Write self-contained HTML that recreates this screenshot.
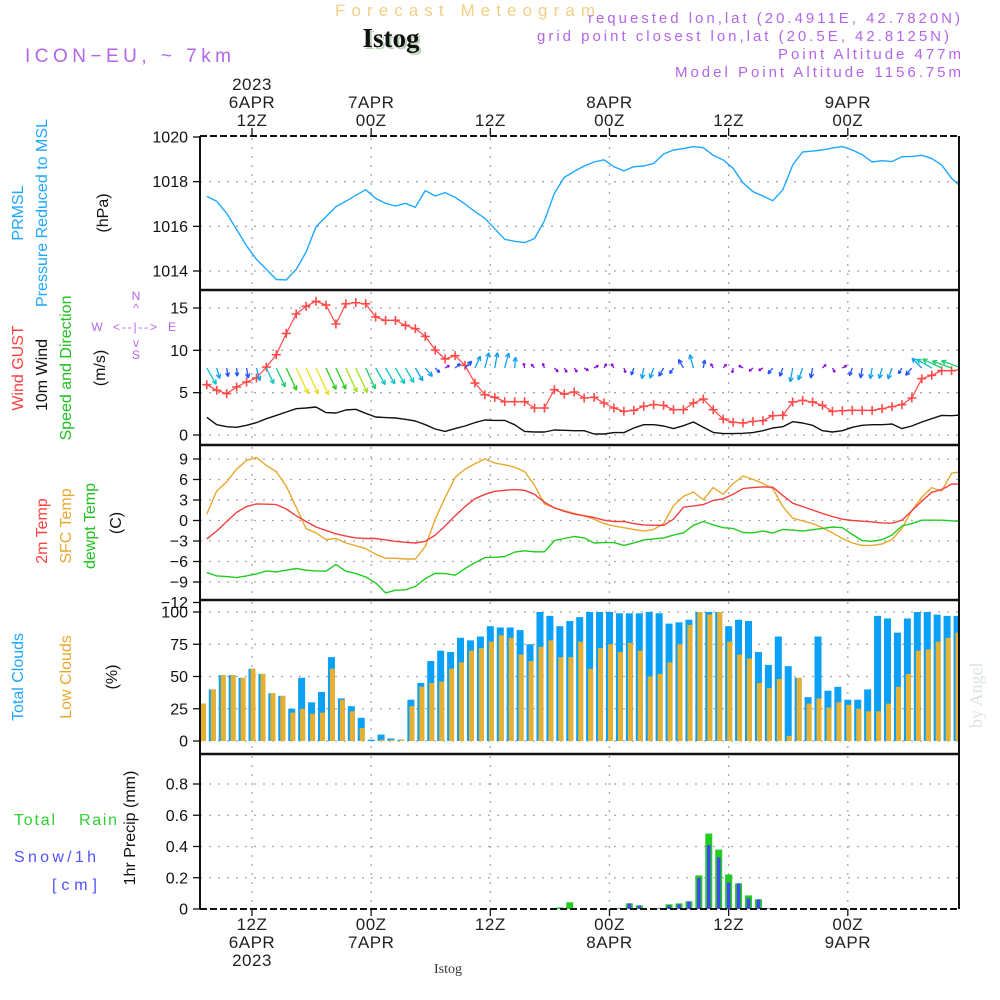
<!DOCTYPE html>
<html><head><meta charset="utf-8"><title>Forecast Meteogram - Istog</title>
<style>
html,body{margin:0;padding:0;background:#fff;}
svg{display:block;font-family:"Liberation Sans",sans-serif;}
</style></head>
<body>
<svg id="chart" width="1000" height="1000" viewBox="0 0 1000 1000" xmlns="http://www.w3.org/2000/svg">
<defs><clipPath id="plotclip"><rect x="200" y="130" width="760" height="790"/></clipPath></defs>
<!-- header -->
<text x="335" y="16" font-size="17" fill="#f3cf86" textLength="260" lengthAdjust="spacing">Forecast Meteogram</text>
<text x="393" y="49" text-anchor="middle" font-family="'Liberation Serif',serif" font-weight="bold" font-size="27" fill="#b9d3b9">Istog</text>
<text x="391" y="47" text-anchor="middle" font-family="'Liberation Serif',serif" font-weight="bold" font-size="27" fill="#111">Istog</text>
<text x="25" y="62" font-size="19" fill="#b366e8" textLength="206" lengthAdjust="spacing">ICON−EU, ~ 7km</text>
<g font-size="15" fill="#b366e8">
<text x="588" y="23" textLength="372" lengthAdjust="spacing">requested lon,lat (20.4911E, 42.7820N)</text>
<text x="537" y="41" textLength="412" lengthAdjust="spacing">grid point closest lon,lat (20.5E, 42.8125N)</text>
<text x="778" y="59" textLength="183" lengthAdjust="spacing">Point Altitude 477m</text>
<text x="675" y="77" textLength="286" lengthAdjust="spacing">Model Point Altitude 1156.75m</text>
</g>
<!-- left rotated labels -->
<g font-size="16">
<text transform="translate(23,213) rotate(-90)" text-anchor="middle" fill="#1ea8ff">PRMSL</text>
<text transform="translate(47,213) rotate(-90)" text-anchor="middle" fill="#1ea8ff" textLength="188">Pressure Reduced to MSL</text>
<text transform="translate(108,213) rotate(-90)" text-anchor="middle" fill="#111">(hPa)</text>
<text transform="translate(23,368) rotate(-90)" text-anchor="middle" fill="#ff4040">Wind GUST</text>
<text transform="translate(47,375) rotate(-90)" text-anchor="middle" fill="#111">10m Wind</text>
<text transform="translate(71,368) rotate(-90)" text-anchor="middle" fill="#20c020" textLength="145">Speed and Direction</text>
<text transform="translate(105,368) rotate(-90)" text-anchor="middle" fill="#111">(m/s)</text>
<text transform="translate(47,531) rotate(-90)" text-anchor="middle" fill="#ff4040">2m Temp</text>
<text transform="translate(71,526) rotate(-90)" text-anchor="middle" fill="#e8a830">SFC Temp</text>
<text transform="translate(95,526) rotate(-90)" text-anchor="middle" fill="#20c020">dewpt Temp</text>
<text transform="translate(121,523) rotate(-90)" text-anchor="middle" fill="#111">(C)</text>
<text transform="translate(23,677) rotate(-90)" text-anchor="middle" fill="#1ea8ff">Total Clouds</text>
<text transform="translate(71,677) rotate(-90)" text-anchor="middle" fill="#e8a830">Low Clouds</text>
<text transform="translate(117,677) rotate(-90)" text-anchor="middle" fill="#111">(%)</text>
<text transform="translate(135,828) rotate(-90)" text-anchor="middle" fill="#111">1hr Precip (mm)</text>
</g>
<g font-size="16">
<text x="14" y="825" fill="#30d030" textLength="41" lengthAdjust="spacing">Total</text>
<text x="79" y="825" fill="#30d030" textLength="38" lengthAdjust="spacing">Rain</text>
<text x="14" y="862" fill="#5050ff" textLength="82" lengthAdjust="spacing">Snow/1h</text>
<text x="52" y="890" fill="#5050ff" textLength="45" lengthAdjust="spacing">[cm]</text>
</g>
<g font-size="12" fill="#b366e8" text-anchor="middle">
<text x="136" y="300">N</text>
<text x="136" y="312">^</text>
<text x="97" y="331">W</text>
<text x="113" y="331" text-anchor="start" textLength="44" lengthAdjust="spacing">&lt;--|--&gt;</text>
<text x="172" y="331">E</text>
<text x="136" y="347">v</text>
<text x="136" y="359">S</text>
</g>
<text transform="translate(982,728) rotate(-90)" font-family="'Liberation Serif',serif" font-size="18" fill="#dbe3db">by Angel</text>
<text x="448" y="973" text-anchor="middle" font-family="'Liberation Serif',serif" font-size="14" fill="#333">Istog</text>
<g id="grid"></g>
<g id="marks" clip-path="url(#plotclip)"></g>
<g id="frame"></g>
<g id="axes"></g>
</svg>
<script>
// ---- data (hourly, hours since 6APR 00Z, starting at 07Z) ----
const hours0 = 7;
const pressure = [1017.34,1017.12,1016.58,1015.86,1015.13,1014.52,1014.07,1013.62,1013.60,1014.07,1014.85,1015.98,1016.43,1016.88,1017.12,1017.39,1017.64,1017.25,1017.03,1016.91,1017.03,1016.85,1017.60,1017.36,1017.51,1017.30,1017.00,1016.66,1016.36,1015.89,1015.42,1015.33,1015.27,1015.45,1016.25,1017.48,1018.19,1018.46,1018.70,1018.88,1018.98,1018.67,1018.48,1018.67,1018.70,1018.82,1019.24,1019.42,1019.48,1019.57,1019.52,1019.18,1018.97,1018.60,1017.95,1017.55,1017.36,1017.15,1017.63,1018.75,1019.33,1019.37,1019.42,1019.51,1019.57,1019.42,1019.21,1018.88,1018.94,1018.90,1019.12,1019.13,1019.18,1019.04,1018.75,1018.15,1017.75];
const gust = [5.94,5.28,4.89,5.67,6.26,6.73,8.03,9.49,12.0,14.29,15.2,15.79,15.35,13.11,15.5,15.63,15.5,13.94,13.54,13.54,12.95,12.56,11.65,10.04,8.98,9.37,8.23,6.14,4.76,4.45,3.94,3.94,3.94,3.19,3.19,5.35,4.84,5.08,4.37,4.45,3.78,3.19,2.8,2.91,3.39,3.58,3.5,2.99,2.99,3.78,4.25,2.99,1.89,1.5,1.42,1.61,1.69,2.28,2.32,3.9,4.09,3.9,3.5,2.8,2.87,2.91,2.91,2.91,3.11,3.35,3.58,4.37,6.65,7.05,7.6,7.6,7.72];
const windSpeed = [2.09,1.22,0.98,0.91,1.14,1.46,1.93,2.32,2.72,3.11,3.19,3.31,2.64,2.6,2.95,3.03,2.56,2.13,2.05,2.01,1.85,1.65,1.22,0.71,0.43,0.75,1.06,1.46,1.77,1.73,1.73,1.22,0.43,0.35,0.35,0.59,0.55,0.51,0.51,0.12,0.12,0.28,0.28,0.83,1.22,1.22,1.06,0.75,1.1,1.54,0.91,0.31,0.16,0.16,0.2,0.28,0.51,0.83,0.98,1.57,1.42,1.14,0.51,0.35,0.51,0.91,1.14,1.22,1.22,1.3,0.75,1.06,1.54,1.93,2.32,2.28,2.36];
const windDirTo = [150,165,170,175,170,165,155,155,155,155,155,155,155,155,155,155,155,150,150,150,150,150,140,135,60,50,45,25,15,10,15,5,350,320,340,135,150,145,120,60,30,330,160,200,190,200,210,215,330,345,10,330,40,190,300,230,240,220,200,190,200,190,45,150,60,200,190,190,195,200,210,220,315,300,295,290,290];
const temp2m = [-2.69,-1.55,-0.15,1.19,2.03,2.43,2.38,2.33,1.69,0.69,-0.15,-0.95,-1.45,-1.94,-2.29,-2.54,-2.64,-2.64,-2.84,-3.04,-3.19,-3.29,-3.04,-2.14,-0.8,0.69,2.03,3.18,3.83,4.27,4.42,4.52,4.42,3.83,2.68,1.84,1.34,0.94,0.69,0.44,0.04,-0.15,-0.15,-0.45,-0.65,-0.7,-0.7,0.19,1.94,2.13,2.33,2.93,3.18,3.83,4.67,4.82,4.92,4.87,3.68,2.53,2.03,1.54,1.04,0.59,0.19,0.0,-0.1,-0.2,-0.35,-0.4,0.04,1.44,2.83,4.12,4.52,5.32,5.32];
const tempSfc = [0.94,4.32,5.67,7.51,8.8,9.2,8.05,7.16,5.02,1.94,-1.2,-1.8,-2.79,-2.64,-3.29,-3.69,-4.13,-4.93,-5.53,-5.53,-5.63,-5.63,-3.79,0.19,3.33,6.31,7.51,8.3,9.0,8.4,8.15,7.81,7.16,5.17,2.43,1.84,1.44,1.04,0.69,0.19,-0.45,-0.8,-1.05,-1.3,-1.55,-1.3,-0.45,2.18,3.53,4.17,3.03,4.82,3.83,5.42,6.51,6.01,5.42,4.67,2.03,0.34,-0.05,-0.45,-1.05,-1.8,-2.64,-3.29,-3.64,-3.64,-3.44,-2.79,-1.15,1.44,3.43,4.82,4.32,6.91,7.16];
const dewpt = [-7.62,-8.11,-8.21,-8.36,-8.11,-7.82,-7.37,-7.52,-7.27,-7.02,-7.27,-7.37,-7.42,-6.42,-7.42,-7.77,-8.26,-9.11,-10.6,-10.2,-10.15,-9.66,-8.51,-7.72,-7.77,-8.01,-7.02,-6.17,-5.43,-5.38,-5.28,-4.63,-4.43,-4.58,-4.58,-2.94,-2.64,-2.34,-2.54,-3.29,-3.24,-3.24,-3.64,-3.29,-2.84,-2.69,-2.54,-2.14,-1.8,-0.7,-0.15,-0.65,-1.05,-1.15,-1.75,-1.8,-1.55,-1.85,-1.3,-1.4,-1.55,-1.35,-1.15,-0.95,-1.05,-2.04,-2.94,-3.04,-2.79,-2.14,-0.8,-0.45,0.04,0.04,0.04,-0.05,-0.15];
const totalClouds = [29,40,51,51,49,56,52,37,35,25,49,30,38,65,33,27,18,1,5,2,1,32,45,62,70,69,80,78,81,89,88,88,86,75,100,97,89,93,96,100,100,100,99,99,99,100,99,91,92,94,100,100,100,89,94,93,69,59,81,58,49,34,81,39,42,32,32,40,97,95,84,95,100,100,98,97,97];
const lowClouds = [29,40,51,51,49,56,52,37,35,22,25,21,22,56,32,23,10,0,1,1,1,27,42,45,46,56,61,70,72,77,82,80,67,62,73,78,65,65,77,56,72,75,69,76,70,50,52,61,75,90,100,98,100,77,67,64,45,41,48,4,49,29,33,26,30,28,25,23,23,29,42,52,70,71,77,80,84];
const totalPrecip = [0,0,0,0,0,0,0,0,0,0,0,0,0,0,0,0,0,0,0,0,0,0,0,0,0,0,0,0,0,0,0,0,0,0,0,0,0.01,0.043,0,0,0,0,0.004,0.036,0.023,0,0.004,0.03,0.036,0.049,0.215,0.483,0.38,0.221,0.164,0.087,0.062,0.004,0,0,0,0,0,0,0,0,0,0,0,0,0,0,0,0,0,0,0];
const snow = [0,0,0,0,0,0,0,0,0,0,0,0,0,0,0,0,0,0,0,0,0,0,0,0,0,0,0,0,0,0,0,0,0,0,0,0,0,0,0,0,0,0,0.004,0.036,0.023,0,0.004,0.023,0.03,0.049,0.2,0.41,0.33,0.17,0.164,0.068,0.062,0.004,0,0,0,0,0,0,0,0,0,0,0,0,0,0,0,0,0,0,0];
const timeTicks = [12,24,36,48,60,72];
const topTickLabels = [["2023","6APR","12Z"],["7APR","00Z"],["12Z"],["8APR","00Z"],["12Z"],["9APR","00Z"]];
const bottomTickLabels = [["12Z","6APR","2023"],["00Z","7APR"],["12Z"],["00Z","8APR"],["12Z"],["00Z","9APR"]];
const pressureTicks = [1014,1016,1018,1020];
const windTicks = [0,5,10,15];
const tempTicks = [-12,-9,-6,-3,0,3,6,9];
const cloudTicks = [0,25,50,75,100];
const precipTicks = [0,0.2,0.4,0.6,0.8];

// ---- scales ----
const NS="http://www.w3.org/2000/svg";
const X0=200, X1=959;
function xh(h){return 252+(h-12)*9.93;}
function lin(d0,d1,r0,r1){return v=>r0+(v-d0)*(r1-r0)/(d1-d0);}
const yP=lin(1014,1020,271,137);
const yW=lin(0,15,435,308);
const yT=lin(-9,9,582,459);
const yC=lin(0,100,741,612);
const yR=lin(0,0.8,909,784);
const panels=[{y0:136,y1:290,ticks:pressureTicks,sc:yP,name:'pressure',fmt:v=>String(v)},
 {y0:290,y1:445,ticks:windTicks,sc:yW,name:'wind',fmt:v=>String(v)},
 {y0:445,y1:600,ticks:tempTicks,sc:yT,name:'temperature',fmt:v=>v<0?'−'+(-v):String(v)},
 {y0:600,y1:754,ticks:cloudTicks,sc:yC,name:'clouds',fmt:v=>String(v)},
 {y0:754,y1:909,ticks:precipTicks,sc:yR,name:'precip',fmt:v=>String(v)}];
const LINE_SHIFT=0.45;
function el(tag,attrs,parent){const e=document.createElementNS(NS,tag);for(const k in attrs)e.setAttribute(k,attrs[k]);parent.appendChild(e);return e;}
const grid=document.getElementById('grid'),marks=document.getElementById('marks'),frame=document.getElementById('frame'),axes=document.getElementById('axes');

// grid
panels.forEach(p=>{
  p.ticks.forEach(t=>{const y=p.sc(t);
    if(y>p.y0+2&&y<p.y1-2){const g=el('line',{x1:X0,x2:X1,y1:y,y2:y,stroke:'#a8a8a8','stroke-width':1.3,'stroke-dasharray':'2,7'},grid);
    
    }
    const tk=el('line',{x1:X0-7,x2:X0,y1:y,y2:y,stroke:'#111','stroke-width':1.3},axes);
    
    
    const lb=el('text',{x:188,y:y+5.5,'text-anchor':'end','font-size':16,fill:'#111'},axes);
    lb.textContent=p.fmt(t);
    
    
  });
  timeTicks.forEach(h=>{const x=xh(h);
    const g=el('line',{x1:x,x2:x,y1:p.y0+2,y2:p.y1-2,stroke:'#a8a8a8','stroke-width':1.3,'stroke-dasharray':'2,7'},grid);
    
    });
});
// time axis labels
timeTicks.forEach((h,i)=>{const x=xh(h);
  const t1=el('line',{x1:x,x2:x,y1:128,y2:136,stroke:'#111','stroke-width':1.3},axes);
  
  
  const t2=el('line',{x1:x,x2:x,y1:909,y2:916,stroke:'#111','stroke-width':1.3},axes);
  
  
  const tl=topTickLabels[i];
  tl.forEach((s,j)=>{const t=el('text',{x:x,y:127-(tl.length-1-j)*18-1,'text-anchor':'middle','font-size':17,fill:'#222','letter-spacing':'0.5'},axes);t.textContent=s;
    
    });
  bottomTickLabels[i].forEach((s,j)=>{const t=el('text',{x:x,y:930+j*18,'text-anchor':'middle','font-size':17,fill:'#222','letter-spacing':'0.5'},axes);t.textContent=s;
    
    });
});
// frame
[136,909].forEach(y=>{const f=el('line',{x1:X0,x2:X1,y1:y,y2:y,stroke:'#111','stroke-width':2,'stroke-dasharray':'7,3'},frame);
  
  });
[290,445,600,754].forEach(y=>{const f=el('line',{x1:X0,x2:X1,y1:y,y2:y,stroke:'#111','stroke-width':2.5},frame);
  
  });
[X0,X1].forEach(x=>{const f=el('line',{x1:x,x2:x,y1:136,y2:909,stroke:'#111','stroke-width':2},frame);
  
  });

// clouds bars
totalClouds.forEach((v,i)=>{const x=xh(hours0+i);
  const b=el('rect',{x:x-3.5,y:yC(v),width:7,height:yC(0)-yC(v),fill:'#0aa0f5'},marks);
  
  });
lowClouds.forEach((v,i)=>{const x=xh(hours0+i);
  const b=el('rect',{x:x-1.5,y:yC(v),width:5,height:yC(0)-yC(v),fill:'#e8b030'},marks);
  
  });
// precip bars
totalPrecip.forEach((v,i)=>{if(v<=0)return;const x=xh(hours0+i);
  const b=el('rect',{x:x-3.5,y:yR(v),width:7,height:yR(0)-yR(v),fill:'#22cc22'},marks);
  
  });
snow.forEach((v,i)=>{if(v<=0)return;const x=xh(hours0+i);
  const b=el('rect',{x:x-1.75,y:yR(v),width:3.5,height:yR(0)-yR(v),fill:'#4444ff'},marks);
  
  });

// lines
function drawLine(arr,sc,color,name,w){
  const pts=arr.map((v,i)=>xh(hours0+i+LINE_SHIFT).toFixed(1)+','+sc(v).toFixed(1)).join(' ');
  const l=el('polyline',{points:pts,fill:'none',stroke:color,'stroke-width':w||1.4,'stroke-linejoin':'round'},marks);
  
  
}
drawLine(pressure,yP,'#1ea8ff','pressure-line');
drawLine(windSpeed,yW,'#111','wind-speed-line');
drawLine(gust,yW,'#ff4a4a','wind-gust-line',1.2);
gust.forEach((v,i)=>{const x=xh(hours0+i+LINE_SHIFT),y=yW(v);
  const m=el('path',{d:`M${x-4.5},${y}H${x+4.5}M${x},${y-4.5}V${y+4.5}`,stroke:'#ff4a4a','stroke-width':1.6},marks);
  
  });
drawLine(tempSfc,yT,'#e8a830','sfc-temp-line');
drawLine(temp2m,yT,'#f04040','temp-2m-line');
drawLine(dewpt,yT,'#20cc20','dewpt-line');

// wind arrows
function arrowColor(s){if(s<0.6)return '#8a10dd';if(s<1.2)return '#2255ff';if(s<1.8)return '#10a0f0';if(s<2.2)return '#10c8c0';if(s<2.6)return '#20cc70';if(s<2.9)return '#30cc20';if(s<3.1)return '#a8e020';return '#e8e020';}
windSpeed.forEach((s,i)=>{
  const x=xh(hours0+i+LINE_SHIFT),y=368;
  const L=Math.max(5,s*9);const a=windDirTo[i]*Math.PI/180;
  const dx=Math.sin(a),dy=-Math.cos(a);
  const hx=x+dx*L,hy=y+dy*L;const hl=Math.min(5,L*0.5);
  const b1=a+Math.PI-0.45,b2=a+Math.PI+0.45;
  const d=`M${x},${y}L${hx},${hy}M${hx},${hy}L${hx+Math.sin(b1)*hl},${hy-Math.cos(b1)*hl}M${hx},${hy}L${hx+Math.sin(b2)*hl},${hy-Math.cos(b2)*hl}`;
  const p=el('path',{d:d,stroke:arrowColor(s),'stroke-width':1.3,fill:'none'},marks);
  
  
});
</script>
</body></html>
